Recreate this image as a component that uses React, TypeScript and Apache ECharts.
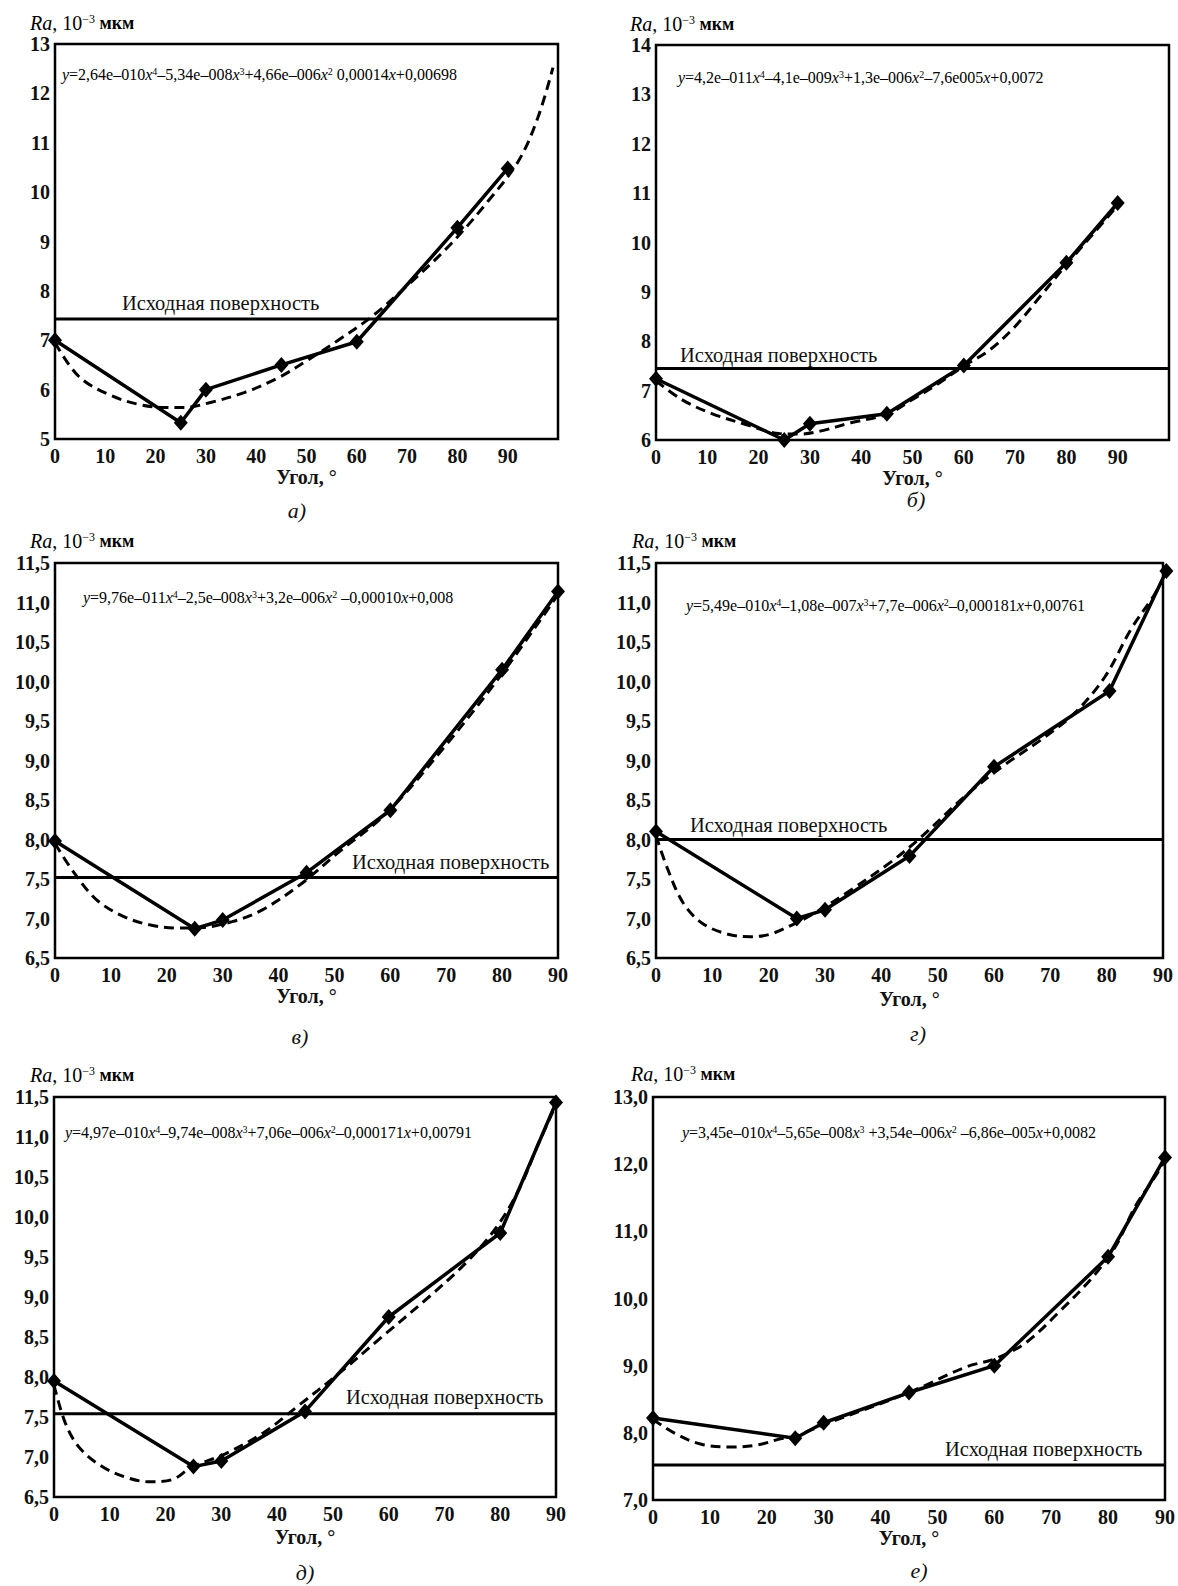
import React, { useEffect, useRef } from "react";
import * as echarts from "echarts";

const FONT = "'Liberation Serif', 'Times New Roman', serif";

// Measured points (angle, Ra 10^-3 µm)
const angles = [0, 25, 30, 45, 60, 80, 90];
const anglesG = [0, 25, 30, 45, 60, 80.5, 90.6];
const raA = [7.0, 5.33, 6.0, 6.5, 6.97, 9.28, 10.48];
const raB = [7.24, 6.0, 6.33, 6.53, 7.51, 9.59, 10.8];
const raV = [7.98, 6.87, 6.98, 7.58, 8.37, 10.15, 11.14];
const raG = [8.1, 7.0, 7.11, 7.79, 8.92, 9.88, 11.4];
const raD = [7.95, 6.88, 6.95, 7.57, 8.75, 9.8, 11.43];
const raE = [8.22, 7.92, 8.15, 8.6, 9.0, 10.62, 12.1];

// Initial surface levels
const refA = 7.43;
const refB = 7.45;
const refV = 7.52;
const refG = 8.0;
const refD = 7.54;
const refE = 7.52;

// Trend curves (dashed)
const fitXA = [0, 4.7, 10.7, 16.7, 21.9, 25.6, 30.9, 37.6, 44.4, 50.3, 56.3, 63, 70.5, 78.8, 86.2, 92.2, 96, 99];
const fitYA = [6.95, 6.27, 5.9, 5.7, 5.64, 5.64, 5.74, 5.94, 6.24, 6.6, 7.0, 7.48, 8.15, 8.96, 9.83, 10.64, 11.51, 12.52];
const fitXB = [0, 5, 11, 18, 24, 28, 32, 38, 45, 50, 55, 60, 65, 70, 75, 80, 85, 90];
const fitYB = [7.2, 6.82, 6.53, 6.3, 6.13, 6.12, 6.18, 6.35, 6.52, 6.82, 7.14, 7.5, 7.82, 8.3, 8.92, 9.55, 10.15, 10.75];
const fitXV = [0, 3.4, 7.4, 12.1, 16.9, 21.6, 25, 31.7, 37.1, 43.9, 50.6, 59.4, 70, 80, 90];
const fitYV = [7.95, 7.58, 7.24, 7.03, 6.92, 6.88, 6.88, 6.96, 7.11, 7.43, 7.83, 8.34, 9.2, 10.1, 11.1];
const fitXG = [0, 2.1, 4.8, 8.2, 12.8, 16.8, 20.2, 24.2, 28.2, 34.8, 41.6, 46.9, 54.9, 61.6, 68.3, 74.3, 79.7, 84.3, 88.3, 90];
const fitYG = [8.05, 7.62, 7.2, 6.94, 6.8, 6.77, 6.8, 6.92, 7.07, 7.37, 7.71, 8.02, 8.55, 8.93, 9.26, 9.6, 10.06, 10.66, 11.08, 11.3];
const fitXD = [0, 2.0, 4.4, 8.4, 13.2, 17.2, 21.3, 24.6, 30.7, 37.5, 43.6, 51, 59.1, 67.2, 73.9, 79.3, 83.4, 86.8, 90];
const fitYD = [7.9, 7.43, 7.13, 6.89, 6.74, 6.69, 6.72, 6.87, 7.04, 7.3, 7.63, 8.04, 8.52, 9.0, 9.43, 9.87, 10.35, 10.91, 11.4];
const fitXE = [0, 3.9, 8.5, 13.8, 18.4, 22.4, 25, 30, 45, 55, 60, 65.5, 71.5, 77.4, 81.4, 84.7, 88, 90];
const fitYE = [8.2, 7.99, 7.83, 7.79, 7.82, 7.91, 7.95, 8.12, 8.6, 8.98, 9.1, 9.34, 9.81, 10.33, 10.79, 11.36, 11.78, 12.05];

// Axis ranges
const yMinA = 5, yMaxA = 13, yStepA = 1;
const yMinB = 6, yMaxB = 14, yStepB = 1;
const yMinV = 6.5, yMaxV = 11.5, yStepV = 0.5;
const yMinG = 6.5, yMaxG = 11.5, yStepG = 0.5;
const yMinD = 6.5, yMaxD = 11.5, yStepD = 0.5;
const yMinE = 7, yMaxE = 13, yStepE = 1;
const xMaxList = [100, 100, 90, 90, 90, 90];

// Texts
const captions = ["а)", "б)", "в)", "г)", "д)", "е)"];
const refLabel = "Исходная поверхность";
const xName = "Угол, °";
const equations = [
  "{i|y}{n|=2,64e–010}{i|x}{s|4}{n|–5,34e–008}{i|x}{s|3}{n|+4,66e–006}{i|x}{s|2}{n| 0,00014}{i|x}{n|+0,00698}",
  "{i|y}{n|=4,2e–011}{i|x}{s|4}{n|–4,1e–009}{i|x}{s|3}{n|+1,3e–006}{i|x}{s|2}{n|–7,6e005}{i|x}{n|+0,0072}",
  "{i|y}{n|=9,76e–011}{i|x}{s|4}{n|–2,5e–008}{i|x}{s|3}{n|+3,2e–006}{i|x}{s|2}{n| –0,00010}{i|x}{n|+0,008}",
  "{i|y}{n|=5,49e–010}{i|x}{s|4}{n|–1,08e–007}{i|x}{s|3}{n|+7,7e–006}{i|x}{s|2}{n|–0,000181}{i|x}{n|+0,00761}",
  "{i|y}{n|=4,97e–010}{i|x}{s|4}{n|–9,74e–008}{i|x}{s|3}{n|+7,06e–006}{i|x}{s|2}{n|–0,000171}{i|x}{n|+0,00791}",
  "{i|y}{n|=3,45e–010}{i|x}{s|4}{n|–5,65e–008}{i|x}{s|3}{n| +3,54e–006}{i|x}{s|2}{n| –6,86e–005}{i|x}{n|+0,0082}",
];

// Layout (pixels)
const grids = [
  { left: 55, top: 44, width: 503, height: 395 },
  { left: 656, top: 45, width: 513, height: 395 },
  { left: 55, top: 563, width: 503, height: 395 },
  { left: 656, top: 563, width: 507, height: 395 },
  { left: 54, top: 1097, width: 502, height: 400 },
  { left: 653, top: 1097, width: 512, height: 403 },
];
const yTitlePos = [[30, 23], [630, 24], [30, 541], [632, 541], [30, 1075], [631, 1074]];
const eqPos = [[62, 74], [678, 77], [83, 597], [686, 605], [65, 1132], [682, 1132]];
const refTextPos = [[122, 303], [680, 355], [352, 862], [690, 825], [346, 1397], [945, 1449]];
const captionPos = [[297, 510], [916, 499], [300, 1036], [918, 1033], [305, 1572], [919, 1570]];
const xNameGap = [18, 17, 28, 31, 30, 21];

function zip(xs: number[], ys: number[]) {
  return xs.map((x, i) => [x, ys[i]]);
}

function buildOption() {
  const panels = [
    { x: angles, y: raA, fx: fitXA, fy: fitYA, ref: refA, ymin: yMinA, ymax: yMaxA, step: yStepA, dec: 0 },
    { x: angles, y: raB, fx: fitXB, fy: fitYB, ref: refB, ymin: yMinB, ymax: yMaxB, step: yStepB, dec: 0 },
    { x: angles, y: raV, fx: fitXV, fy: fitYV, ref: refV, ymin: yMinV, ymax: yMaxV, step: yStepV, dec: 1 },
    { x: anglesG, y: raG, fx: fitXG, fy: fitYG, ref: refG, ymin: yMinG, ymax: yMaxG, step: yStepG, dec: 1 },
    { x: angles, y: raD, fx: fitXD, fy: fitYD, ref: refD, ymin: yMinD, ymax: yMaxD, step: yStepD, dec: 1 },
    { x: angles, y: raE, fx: fitXE, fy: fitYE, ref: refE, ymin: yMinE, ymax: yMaxE, step: yStepE, dec: 1 },
  ];

  const grid = grids.map((g) => ({
    ...g,
    show: true,
    borderColor: "#000",
    borderWidth: 2.5,
    backgroundColor: "transparent",
    containLabel: false,
  }));

  const xAxis = panels.map((p, i) => ({
    type: "value",
    gridIndex: i,
    min: 0,
    max: xMaxList[i],
    interval: 10,
    name: xName,
    nameLocation: "middle",
    nameGap: xNameGap[i],
    nameTextStyle: { fontFamily: FONT, fontSize: 20, fontWeight: "bold", color: "#111" },
    axisLine: { show: false },
    axisTick: { show: false },
    splitLine: { show: false },
    axisLabel: {
      fontFamily: FONT,
      fontSize: 20,
      fontWeight: "bold",
      color: "#111",
      margin: 7,
      formatter: (v: number) => (v > 90 ? "" : String(v)),
    },
  }));

  const yAxis = panels.map((p, i) => ({
    type: "value",
    gridIndex: i,
    min: p.ymin,
    max: p.ymax,
    interval: p.step,
    axisLine: { show: false },
    axisTick: { show: false },
    splitLine: { show: false },
    axisLabel: {
      fontFamily: FONT,
      fontSize: 20,
      fontWeight: "bold",
      color: "#111",
      margin: 5,
      formatter: (v: number) => v.toFixed(p.dec).replace(".", ","),
    },
  }));

  const series: any[] = [];
  panels.forEach((p, i) => {
    series.push({
      type: "line",
      xAxisIndex: i,
      yAxisIndex: i,
      data: zip(p.fx, p.fy),
      smooth: 0.35,
      showSymbol: false,
      symbol: "none",
      z: 2,
      lineStyle: { color: "#000", width: 3, type: [10, 6] },
    });
    series.push({
      type: "line",
      xAxisIndex: i,
      yAxisIndex: i,
      data: [[0, p.ref], [xMaxList[i], p.ref]],
      symbol: "none",
      z: 3,
      lineStyle: { color: "#000", width: 3 },
    });
    series.push({
      type: "line",
      xAxisIndex: i,
      yAxisIndex: i,
      data: zip(p.x, p.y),
      symbol: "diamond",
      symbolSize: [14, 16],
      clip: false,
      z: 4,
      itemStyle: { color: "#000" },
      lineStyle: { color: "#000", width: 3.5 },
    });
  });

  const graphic: any[] = [];
  for (let i = 0; i < 6; i++) {
    graphic.push({
      type: "text",
      x: yTitlePos[i][0],
      y: yTitlePos[i][1],
      style: {
        text: "{i|Ra}{n|, 10}{s|−3}{m| мкм}",
        verticalAlign: "middle",
        align: "left",
        rich: {
          i: { fontFamily: FONT, fontStyle: "italic", fontSize: 20, color: "#111" },
          n: { fontFamily: FONT, fontSize: 20, color: "#111" },
          s: { fontFamily: FONT, fontSize: 12, color: "#111", verticalAlign: "top" },
          m: { fontFamily: FONT, fontSize: 18, color: "#111", fontWeight: "bold" },
        },
      },
    });
    graphic.push({
      type: "text",
      x: eqPos[i][0],
      y: eqPos[i][1],
      style: {
        text: equations[i],
        verticalAlign: "middle",
        align: "left",
        rich: {
          i: { fontFamily: FONT, fontStyle: "italic", fontSize: 16, color: "#111" },
          n: { fontFamily: FONT, fontSize: 16, color: "#111" },
          s: { fontFamily: FONT, fontSize: 10, color: "#111", verticalAlign: "top" },
        },
      },
    });
    graphic.push({
      type: "text",
      x: refTextPos[i][0],
      y: refTextPos[i][1],
      style: {
        text: refLabel,
        fontFamily: FONT,
        fontSize: 20.5,
        fill: "#111",
        verticalAlign: "middle",
        align: "left",
      },
    });
    graphic.push({
      type: "text",
      x: captionPos[i][0],
      y: captionPos[i][1],
      style: {
        text: captions[i],
        fontFamily: FONT,
        fontSize: 22,
        fontStyle: "italic",
        fill: "#111",
        verticalAlign: "middle",
        align: "center",
      },
    });
  }

  return {
    animation: false,
    backgroundColor: "#fff",
    grid,
    xAxis,
    yAxis,
    series,
    graphic,
  };
}

export default function App() {
  const ref = useRef<HTMLDivElement>(null);
  useEffect(() => {
    if (!ref.current) return;
    const chart = echarts.init(ref.current, null, { renderer: "svg" });
    chart.setOption(buildOption() as any);
    return () => chart.dispose();
  }, []);
  return (
    <div
      ref={ref}
      style={{ position: "absolute", left: 0, top: 0, width: 1178, height: 1586, background: "#fff" }}
    />
  );
}
